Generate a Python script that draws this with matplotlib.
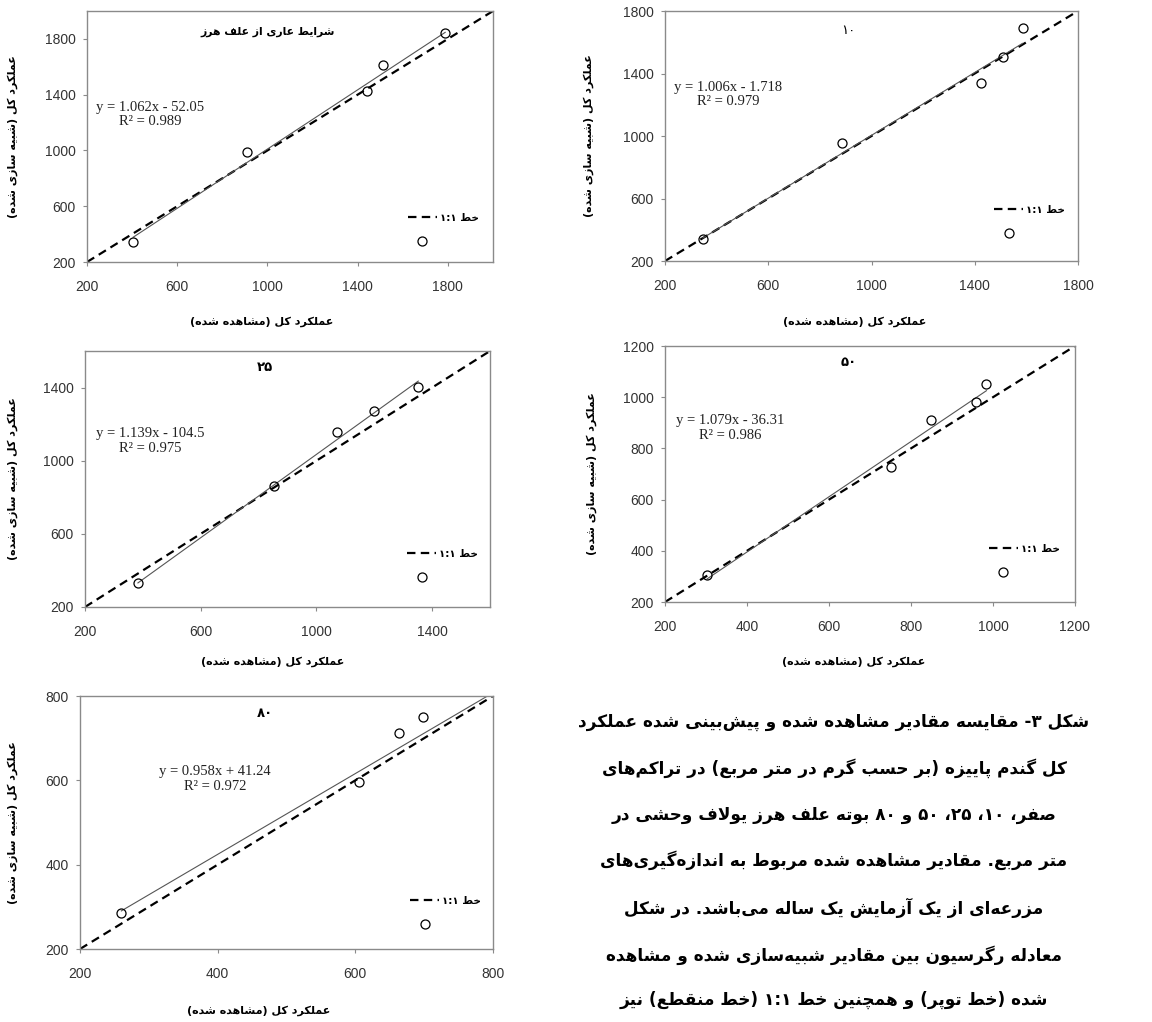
import re
import matplotlib.pyplot as plt
from matplotlib.lines import Line2D

# total yield of winter wheat (g/m2): observed vs simulated, one list per weed density
obs_0 = [405, 910, 1441, 1511, 1788]
sim_0 = [343, 990, 1426, 1614, 1840]
obs_10 = [347, 886, 1426, 1509, 1585]
sim_10 = [339, 953, 1337, 1503, 1689]
obs_25 = [383, 855, 1070, 1198, 1352]
sim_25 = [332, 863, 1155, 1272, 1402]
obs_50 = [303, 750, 848, 958, 984]
sim_50 = [304, 726, 911, 980, 1053]
obs_80 = [260, 606, 664, 699]
sim_80 = [285, 597, 712, 750]

# fitted regression (simulated = slope * observed + intercept)
slopes = [1.062, 1.006, 1.139, 1.079, 0.958]
intercepts = [-52.05, -1.718, -104.5, -36.31, 41.24]
r2 = [0.989, 0.979, 0.975, 0.986, 0.972]

panel_titles = ['شرایط عاری از علف هرز', '۱۰', '۲۵', '۵۰', '۸۰']
axis_max = [2000, 1800, 1600, 1200, 800]
tick_max = [1800, 1800, 1400, 1200, 800]
tick_step = [400, 400, 400, 200, 200]

xlabel = 'عملکرد کل (مشاهده شده)'
ylabel = 'عملکرد کل (شبیه سازی شده)'
legend_label = 'خط ۱:۱'

caption = [
    'شکل ۳- مقایسه مقادیر مشاهده شده و پیش\u200cبینی شده عملکرد',
    'کل گندم پاییزه (بر حسب گرم در متر مربع) در تراکم\u200cهای',
    'صفر، ۱۰، ۲۵، ۵۰ و ۸۰ بوته علف هرز یولاف وحشی در',
    'متر مربع. مقادیر مشاهده شده مربوط به اندازه\u200cگیری\u200cهای',
    'مزرعه\u200cای از یک آزمایش یک ساله می\u200cباشد. در شکل',
    'معادله رگرسیون بین مقادیر شبیه\u200cسازی شده و مشاهده',
    'شده (خط توپر) و همچنین خط ۱:۱ (خط منقطع) نیز',
]

# contextual forms: isolated, final[, initial, medial]
FORMS = {
    'ا': '\ufe8d\ufe8e', 'آ': '\ufe81\ufe82', 'د': '\ufea9\ufeaa', 'ذ': '\ufeab\ufeac',
    'ر': '\ufead\ufeae', 'ز': '\ufeaf\ufeb0', 'ژ': '\ufb8a\ufb8b', 'و': '\ufeed\ufeee',
    'ب': '\ufe8f\ufe90\ufe91\ufe92', 'پ': '\ufb56\ufb57\ufb58\ufb59',
    'ت': '\ufe95\ufe96\ufe97\ufe98', 'ث': '\ufe99\ufe9a\ufe9b\ufe9c',
    'ج': '\ufe9d\ufe9e\ufe9f\ufea0', 'چ': '\ufb7a\ufb7b\ufb7c\ufb7d',
    'ح': '\ufea1\ufea2\ufea3\ufea4', 'خ': '\ufea5\ufea6\ufea7\ufea8',
    'س': '\ufeb1\ufeb2\ufeb3\ufeb4', 'ش': '\ufeb5\ufeb6\ufeb7\ufeb8',
    'ص': '\ufeb9\ufeba\ufebb\ufebc', 'ض': '\ufebd\ufebe\ufebf\ufec0',
    'ط': '\ufec1\ufec2\ufec3\ufec4', 'ظ': '\ufec5\ufec6\ufec7\ufec8',
    'ع': '\ufec9\ufeca\ufecb\ufecc', 'غ': '\ufecd\ufece\ufecf\ufed0',
    'ف': '\ufed1\ufed2\ufed3\ufed4', 'ق': '\ufed5\ufed6\ufed7\ufed8',
    'ک': '\ufb8e\ufb8f\ufb90\ufb91', 'گ': '\ufb92\ufb93\ufb94\ufb95',
    'ل': '\ufedd\ufede\ufedf\ufee0', 'م': '\ufee1\ufee2\ufee3\ufee4',
    'ن': '\ufee5\ufee6\ufee7\ufee8', 'ه': '\ufee9\ufeea\ufeeb\ufeec',
    'ی': '\ufbfc\ufbfd\ufbfe\ufbff', 'ئ': '\ufe89\ufe8a\ufe8b\ufe8c',
}
LAM_ALEF = {'ا': '\ufefb\ufefc', 'آ': '\ufef5\ufef6'}


def shape(text):
    out = []
    i = 0
    while i < len(text):
        c = text[i]
        if c not in FORMS:
            out.append(c)
            i += 1
            continue
        prev = text[i - 1] if i > 0 else ''
        joins_prev = len(FORMS.get(prev, '')) == 4
        if c == 'ل' and i + 1 < len(text) and text[i + 1] in LAM_ALEF:
            out.append(LAM_ALEF[text[i + 1]][1 if joins_prev else 0])
            i += 2
            continue
        nxt = text[i + 1] if i + 1 < len(text) else ''
        forms = FORMS[c]
        joins_next = len(forms) == 4 and nxt in FORMS
        if joins_prev and joins_next:
            out.append(forms[3])
        elif joins_prev:
            out.append(forms[1])
        elif joins_next:
            out.append(forms[2])
        else:
            out.append(forms[0])
        i += 1
    return ''.join(out).replace('\u200c', '')


def rtl(text):
    s = shape(text)[::-1]
    s = re.sub(r'[0-9\u06f0-\u06f9]+', lambda m: m.group(0)[::-1], s)
    return s.translate(str.maketrans('()', ')('))


# axes boxes in pixels: left, right, top, bottom
boxes = [(87, 493, 11, 262), (665, 1078, 11, 261), (85, 490, 351, 607),
         (665, 1075, 346, 602), (80, 493, 696, 949)]
title_pos = [(0.446, 0.916), (0.443, 0.924), (0.444, 0.937), (0.449, 0.934), (0.448, 0.929)]
eq_pos = [(0.155, 0.588), (0.153, 0.666), (0.160, 0.648), (0.159, 0.680), (0.327, 0.672)]
leg_pos = [(0.790, 0.195), (0.797, 0.224), (0.795, 0.226), (0.790, 0.226), (0.799, 0.209)]
xlab_pos = [(0.430, -0.239), (0.460, -0.244), (0.464, -0.215), (0.461, -0.234), (0.433, -0.245)]
ylab_x = [-0.182, -0.184, -0.178, -0.180, -0.162]

W, H = 1152, 1022
fig = plt.figure(figsize=(W / 100, H / 100), dpi=100)

observed = [obs_0, obs_10, obs_25, obs_50, obs_80]
simulated = [sim_0, sim_10, sim_25, sim_50, sim_80]
trend_end = [None, None, None, None, 800]

persian = ['DejaVu Sans']
for k in range(5):
    l, r, t, b = boxes[k]
    ax = fig.add_axes([l / W, 1 - b / H, (r - l) / W, (b - t) / H])
    lo, hi = 200, axis_max[k]
    ax.set_xlim(lo, hi)
    ax.set_ylim(lo, hi)
    ticks = list(range(lo, tick_max[k] + 1, tick_step[k]))
    ax.set_xticks(ticks)
    ax.set_yticks(ticks)

    x, y = observed[k], simulated[k]
    one, = ax.plot([lo, hi], [lo, hi], color='black', lw=1.6, ls=(0, (3.8, 2.4)))
    x0 = min(x)
    x1 = trend_end[k] if trend_end[k] else max(x)
    ax.plot([x0, x1], [slopes[k] * x0 + intercepts[k], slopes[k] * x1 + intercepts[k]],
            color='#555555', lw=0.8)
    ax.plot(x, y, 'o', ms=6.5, mfc='none', mec='black', mew=0.9, clip_on=False)

    sign = '-' if intercepts[k] < 0 else '+'
    eq = f'y = {slopes[k]:.3f}x {sign} {abs(intercepts[k]):.4g}\nR\u00b2 = {r2[k]:.3f}'
    ax.text(*eq_pos[k], eq, transform=ax.transAxes, ha='center', va='center',
            family='Liberation Serif', fontsize=10.5, color='#222222', linespacing=1.15)

    ax.text(*title_pos[k], rtl(panel_titles[k]), transform=ax.transAxes, ha='center',
            va='center', family=persian, fontsize=7.8 if k == 0 else 9.5,
            fontweight='bold' if k != 1 else 'normal')

    marker = Line2D([], [], ls='none', marker='o', ms=6.5, mfc='none', mec='black', mew=0.9)
    ax.legend([one, marker], [rtl(legend_label), ' '], loc='upper left',
              bbox_to_anchor=leg_pos[k], frameon=False, borderpad=0, borderaxespad=0,
              handlelength=2.8, handletextpad=0.3, labelspacing=1.3,
              prop={'family': persian, 'size': 7.5, 'weight': 'bold'})

    ax.set_xlabel(rtl(xlabel), family=persian, fontsize=8, fontweight='bold')
    ax.xaxis.set_label_coords(*xlab_pos[k])
    ax.xaxis.label.set_va('center')
    ax.set_ylabel(rtl(ylabel), family=persian, fontsize=8, fontweight='bold')
    ax.yaxis.set_label_coords(ylab_x[k], 0.5)
    ax.yaxis.label.set_va('center')

    for s in ax.spines.values():
        s.set_color('#8a8a8a')
        s.set_linewidth(1)
    ax.tick_params(direction='out', length=3, width=0.8, color='#8a8a8a',
                   labelsize=10, labelcolor='#333333')
    ax.tick_params(axis='x', pad=10)
    ax.tick_params(axis='y', pad=5)
    for lab in ax.get_xticklabels() + ax.get_yticklabels():
        lab.set_family('Liberation Sans')

line_y = [722, 768, 815, 860, 908, 955, 1000]
for txt, yy in zip(caption, line_y):
    fig.text(834 / W, 1 - yy / H, rtl(txt), ha='center', va='center',
             family=persian, fontsize=12.2, fontweight='bold')

fig.savefig('out.png', dpi=100, facecolor='white')
